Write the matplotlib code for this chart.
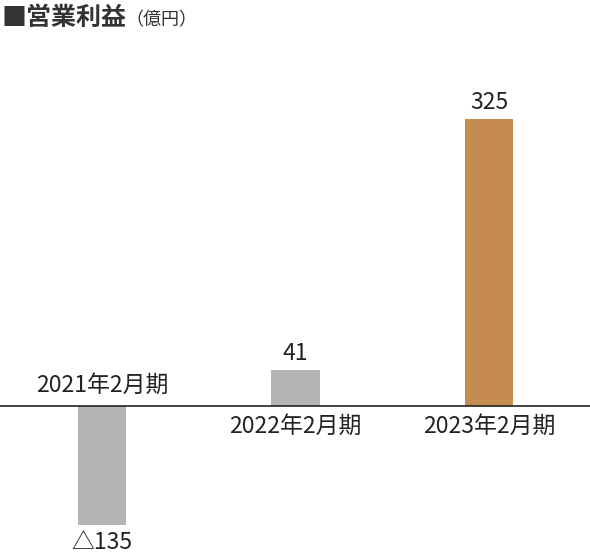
import matplotlib.pyplot as plt

plt.rcParams['font.family'] = ['Noto Sans CJK JP', 'DejaVu Sans']

periods = ['2021年2月期', '2022年2月期', '2023年2月期']
profits = [-135, 41, 325]
value_labels = ['△135', '41', '325']
colors = ['#b4b4b4', '#b4b4b4', '#c48c50']

fig = plt.figure(figsize=(5.9, 5.55), dpi=100)
ax = fig.add_axes([0, 0, 1, 1])
x = list(range(len(periods)))
ax.bar(x, profits, width=0.25, color=colors)
ax.axhline(0, color='#222222', lw=1.2)
ax.set_xlim(-0.527, 2.522)
ax.set_ylim(-168.7, 459.8)
ax.axis('off')

fs = 16.5
for i, v in enumerate(profits):
    if v < 0:
        ax.text(i, v - 6, value_labels[i], ha='center', va='top', fontsize=fs, color='#222222')
        ax.text(i, 10, periods[i], ha='center', va='bottom', fontsize=fs, color='#222222')
    else:
        ax.text(i, v + 6, value_labels[i], ha='center', va='bottom', fontsize=fs, color='#222222')
        ax.text(i, -10, periods[i], ha='center', va='top', fontsize=fs, color='#222222')

fig.text(0.003, 0.967, '■営業利益', ha='left', va='center', fontsize=18, fontweight='bold', color='#333333')
fig.text(0.212, 0.963, '（億円）', ha='left', va='center', fontsize=13, color='#333333')

fig.savefig('out.png', dpi=100)
